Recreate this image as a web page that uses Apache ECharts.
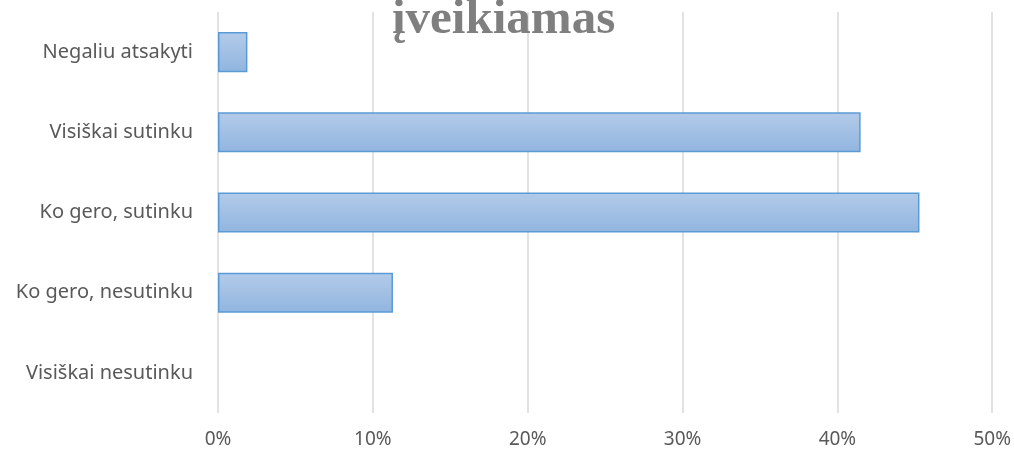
<!DOCTYPE html>
<html>
<head>
<meta charset="utf-8">
<script src="https://cdn.jsdelivr.net/npm/echarts@6/dist/echarts.min.js"></script>
<style>
  html, body { margin: 0; padding: 0; background: #fff; }
  #chart { width: 1014px; height: 455px; }
</style>
</head>
<body>
<div id="chart"></div>
<script>
var categories = ['Visiškai nesutinku', 'Ko gero, nesutinku', 'Ko gero, sutinku', 'Visiškai sutinku', 'Negaliu atsakyti'];
var shares = [0, 11.3, 45.3, 41.5, 1.9];
var xTicks = [0, 10, 20, 30, 40, 50];
var titleText = 'įveikiamas';

var myChart = echarts.init(document.getElementById('chart'), null, { renderer: 'canvas' });

// empty bars get no outline, like the original
var barData = shares.map(function (v) {
  return v === 0 ? { value: v, itemStyle: { borderWidth: 0, opacity: 0 } } : v;
});

var option = {
  animation: false,
  backgroundColor: '#fff',
  title: {
    text: titleText,
    left: 387,
    top: -9,
    textStyle: {
      fontFamily: 'Liberation Serif',
      fontWeight: 'bold',
      fontSize: 49,
      color: '#7f7f7f'
    }
  },
  grid: { left: 218, right: 21, top: 12, bottom: 42 },
  xAxis: {
    type: 'value',
    min: xTicks[0],
    max: xTicks[xTicks.length - 1],
    interval: 10,
    axisLine: { show: false },
    axisTick: { show: false },
    splitLine: { lineStyle: { color: '#d9d9d9', width: 1.5 } },
    axisLabel: {
      formatter: '{value}%',
      color: '#595959',
      fontFamily: 'Noto Sans',
      fontSize: 19,
      margin: 17
    }
  },
  yAxis: {
    type: 'category',
    data: categories,
    axisLine: { show: false },
    axisTick: { show: false },
    axisLabel: {
      color: '#595959',
      fontFamily: 'Noto Sans',
      fontSize: 20,
      margin: 25
    }
  },
  series: [{
    type: 'bar',
    data: barData,
    barCategoryGap: '50%',
    itemStyle: {
      color: new echarts.graphic.LinearGradient(0, 0, 0, 1, [
        { offset: 0, color: '#b3cbe9' },
        { offset: 1, color: '#91b5df' }
      ]),
      borderColor: '#5b9bd5',
      borderWidth: 1.5
    }
  }]
};

myChart.setOption(option);
window.addEventListener('resize', myChart.resize);
</script>
</body>
</html>
